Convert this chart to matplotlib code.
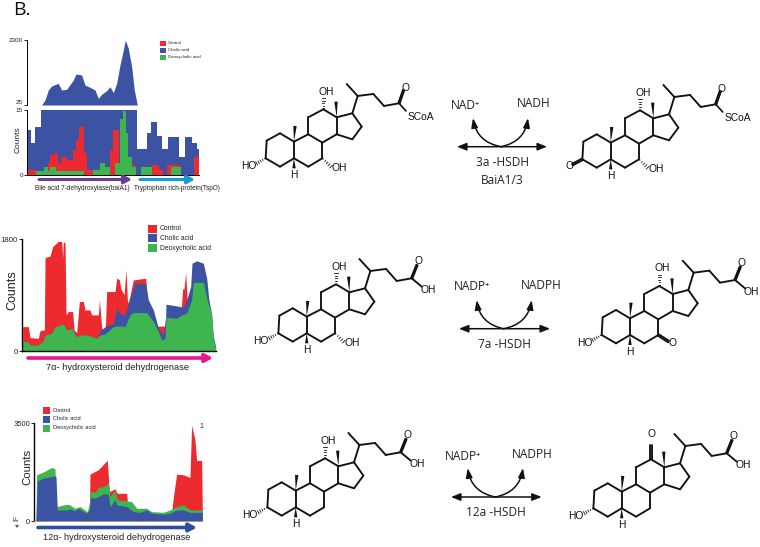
import matplotlib
matplotlib.use("Agg")
from matplotlib import pyplot as plt
from matplotlib.patches import FancyArrowPatch, Polygon, Rectangle
import numpy as np

W, H = 760, 547
RED = "#ed2a2e"
BLUE = "#3c53a4"
GREEN = "#3fb54f"
SANS = "Liberation Sans"
CAL = ["Open Sans", "DejaVu Sans"]
NAMES = ["Control", "Cholic acid", "Deoxycholic acid"]

# ---- panel 1 (baiA1 / TspO), upper part of broken axis
top_x = [125, 135, 145, 155, 175, 185, 200, 220, 228, 245, 255, 270, 285, 295, 305, 320, 330, 340, 350, 360, 370, 376, 385, 395, 403, 412]
top_blue = [25, 200, 550, 690, 783, 550, 573, 900, 1110, 1075, 725, 643, 550, 258, 398, 527, 667, 457, 783, 1425, 1950, 2300, 2009, 1367, 550, 25]

# lower part, step profiles (edges, values)
low_blue_x = [82, 92, 105, 122, 412, 440, 452, 472, 485, 505, 538, 555, 577, 590, 597]
low_blue = [10.4, 7.5, 11, 15, 6, 9.6, 12.3, 9, 6, 8.7, 4.2, 8.7, 7.3, 6, 6]
low_red_x = [82, 108, 143, 150, 165, 175, 182, 200, 218, 228, 238, 252, 262, 278, 330, 340, 358, 395, 405, 455, 478, 488, 500, 540, 582, 597]
low_red = [1.2, 0, 2.7, 4.6, 5, 2.7, 4.2, 3.5, 5.8, 8.1, 11, 5, 1.2, 0, 5.8, 10.4, 0, 2.2, 0, 2.2, 1.2, 0, 2.2, 0, 4.2, 4.2]
low_green_x = [108, 133, 143, 150, 168, 252, 280, 300, 315, 330, 345, 360, 370, 378, 385, 395, 408, 422, 455, 512, 543, 597]
low_green = [1, 1.9, 1, 1.9, 1, 0, 1.2, 2.7, 1.9, 0, 2.7, 13, 14.8, 9.6, 4.2, 1.9, 0, 1.9, 0, 1.9, 0, 0]

# ---- panel 2 (7a-HSDH)
p2_red_x = [68, 85, 90, 115, 120, 133, 135, 150, 158, 175, 185, 188, 190, 195, 198, 205, 218, 222, 230, 238, 250, 255, 270, 275, 295, 298, 302, 305, 316, 320, 345, 350, 358, 362, 372, 378, 382, 385, 400, 437, 442, 450, 540, 548, 552, 557, 562, 570, 576]
p2_red = [392, 392, 215, 204, 328, 338, 1500, 1525, 1680, 1760, 1760, 1490, 1760, 1735, 580, 634, 634, 338, 295, 795, 795, 660, 660, 580, 580, 822, 580, 365, 365, 956, 956, 1170, 1145, 1010, 902, 1305, 822, 768, 1142, 1170, 850, 400, 400, 1000, 1000, 1262, 768, 768, 800]
p2_blue_x = [68, 85, 90, 115, 130, 135, 155, 165, 190, 200, 215, 228, 240, 262, 290, 300, 315, 340, 350, 360, 375, 385, 395, 405, 437, 445, 460, 475, 490, 497, 498, 530, 550, 560, 572, 576, 590, 610, 620, 626, 635, 640, 647]
p2_blue = [150, 150, 97, 97, 166, 258, 285, 392, 435, 338, 365, 230, 258, 258, 204, 312, 392, 446, 688, 607, 580, 768, 930, 1090, 1080, 822, 660, 365, 258, 553, 752, 725, 704, 822, 1037, 1411, 1450, 1411, 1170, 849, 580, 230, 70]
p2_green_x = [68, 85, 90, 115, 130, 135, 155, 165, 190, 200, 215, 228, 240, 262, 290, 300, 315, 340, 360, 375, 390, 400, 440, 460, 475, 485, 495, 498, 530, 545, 560, 575, 580, 610, 620, 635, 640, 647]
p2_green = [150, 150, 97, 97, 166, 258, 285, 392, 435, 338, 365, 230, 258, 258, 204, 258, 274, 392, 403, 392, 580, 618, 618, 473, 312, 177, 204, 542, 527, 580, 607, 822, 1103, 1103, 850, 580, 177, 43]

# ---- panel 3 (12a-HSDH)
p3_red_x = [268, 270, 295, 322, 328, 345, 352, 380, 385, 515, 520, 530, 550, 570, 575, 585, 590, 605, 607]
p3_red = [0, 1675, 1830, 2170, 1050, 1150, 990, 990, 300, 300, 840, 1675, 1650, 1555, 3415, 2900, 2160, 2160, 400]
p3_blue_x = [108, 112, 130, 165, 168, 172, 200, 210, 225, 235, 260, 268, 272, 285, 295, 310, 325, 330, 345, 350, 380, 400, 420, 440, 455, 490, 510, 530, 550, 570, 607]
p3_blue = [40, 1430, 1530, 1610, 1590, 395, 395, 430, 360, 455, 275, 395, 840, 815, 875, 970, 955, 510, 755, 575, 515, 335, 310, 395, 275, 240, 275, 395, 395, 310, 310]
p3_green_x = [108, 110, 130, 155, 165, 170, 200, 210, 225, 240, 262, 268, 272, 285, 295, 310, 325, 330, 345, 352, 380, 395, 410, 440, 455, 490, 510, 530, 550, 570, 590, 607]
p3_green = [40, 1650, 1750, 1910, 1865, 515, 600, 575, 455, 515, 335, 630, 1055, 1030, 1195, 1230, 1350, 870, 1110, 755, 720, 695, 455, 455, 335, 310, 395, 515, 575, 395, 395, 395]


def px_axes(fig, x0, y0, x1, y1):
    # rectangle in image pixels (y down)
    return fig.add_axes([x0 / W, 1 - y1 / H, (x1 - x0) / W, (y1 - y0) / H])


def style(ax, ticks, labels, xlim, ylim, fs, lc="black", bottom=True):
    ax.set_xlim(*xlim)
    ax.set_ylim(*ylim)
    ax.patch.set_alpha(0)
    ax.set_xticks([])
    ax.set_yticks(ticks)
    ax.set_yticklabels(labels, fontsize=fs, family=SANS, color="#222222")
    ax.tick_params(axis="y", length=2, width=0.6, pad=1)
    for s in ["top", "right"]:
        ax.spines[s].set_visible(False)
    ax.spines["bottom"].set_visible(bottom)
    ax.spines["left"].set_linewidth(0.7)
    ax.spines["bottom"].set_linewidth(0.7)
    ax.spines["bottom"].set_color(lc)


fig = plt.figure(figsize=(W / 100, H / 100), dpi=100)

# panel 1
ax = px_axes(fig, 27.3, 40, 199, 105)
ax.fill_between(top_x, top_blue, 25, color=BLUE, lw=0)
style(ax, [25, 2300], ["25", "2300"], (82, 597), (25, 2300), 4.6, bottom=False)
ax.get_yticklabels()[0].set_va("bottom")

ax = px_axes(fig, 27.3, 110, 199, 175)
ax.fill_between(low_blue_x, low_blue, 0, step="post", color=BLUE, lw=0)
ax.fill_between(low_red_x, low_red, 0, step="post", color=RED, lw=0)
ax.fill_between(low_green_x, low_green, 0, step="post", color=GREEN, lw=0)
style(ax, [0, 15], ["0", "15"], (82, 597), (0, 15), 4.6)

# panel 2
ax = px_axes(fig, 21.7, 239, 216, 351)
ax.fill_between(p2_red_x, p2_red, 0, color=RED, lw=0)
ax.fill_between(p2_blue_x, p2_blue, 0, color=BLUE, lw=0)
ax.fill_between(p2_green_x, p2_green, 0, color=GREEN, lw=0)
style(ax, [0, 1800], ["0", "1800"], (65, 648), (0, 1800), 5.6)
ax.spines["left"].set_linewidth(1)
ax.spines["bottom"].set_linewidth(1)

# panel 3
ax = px_axes(fig, 34.3, 423, 202.3, 521)
ax.fill_between(p3_red_x, p3_red, 0, color=RED, lw=0)
ax.fill_between(p3_green_x, p3_green, 0, color=GREEN, lw=0)
ax.fill_between(p3_blue_x, p3_blue, 0, color=BLUE, lw=0)
style(ax, [0, 3500], ["0", "3500"], (103, 607), (0, 3500), 5.5, lc="#999999")
ax.spines["left"].set_linewidth(1)

# overlay in image pixels for everything that is not a chart
ov = fig.add_axes([0, 0, 1, 1], zorder=5)
ov.set_xlim(0, W)
ov.set_ylim(H, 0)
ov.axis("off")


def txt(x, y, s, fs, fam=SANS, ha="center", c="#222222", **kw):
    ov.text(x, y, s, fontsize=fs, family=fam, ha=ha, va="center", color=c, **kw)


def legend(x0, size, ys, tx, fs, cols):
    for y, c, n in zip(ys, cols, NAMES):
        ov.add_patch(Rectangle((x0, y - size[1] / 2), size[0], size[1], color=c, lw=0))
        txt(tx, y, n, fs, ha="left")


def gene(x0, x1, y, c, lw=2.2):
    ov.add_patch(FancyArrowPatch((x0, y), (x1, y), arrowstyle="-|>,head_length=3,head_width=1.6",
                                 mutation_scale=1.5, lw=lw, color=c, shrinkA=0, shrinkB=0))


txt(13, 10, "B.", 14, fam=CAL, ha="left", c="#111111")

legend(160, (6, 5), [43, 50, 57], 168, 3.2, [RED, BLUE, GREEN])
txt(18, 140, "Counts", 6, rotation=90)
gene(39, 132, 179.5, "#6a3d9a")
gene(140, 195, 179.5, "#1c9ad6")
txt(82, 189, "Bile acid 7-dehydroxylase(baiA1)", 4.7)
txt(177, 188, "Tryptophan rich-protein(TspO)", 4.7)

legend(148, (9, 8), [229, 238, 248], 160, 4.9, [RED, BLUE, GREEN])
txt(12, 290, "Counts", 9, rotation=90)
gene(28, 213, 358, "#e6178f", lw=2.6)
txt(117, 367, "7\u03b1- hydroxysteroid dehydrogenase", 6.7)

legend(43, (7, 7), [410, 419, 428], 53, 4.1, [RED, BLUE, GREEN])
txt(27, 467, "Counts", 8.2, rotation=90)
gene(38, 197, 527.5, "#2f4f9e", lw=2.6)
txt(117, 538, "12\u03b1- hydroxysteroid dehydrogenase", 6.6)
txt(201, 426, "1", 5)
# clipped remains of another panel at the lower left edge
txt(17, 518, "IF", 5, rotation=90, c="#555555")
ov.add_patch(Polygon([[15, 525], [19, 525], [17, 528]], color="#6a3d9a", lw=0))

# ---- steroid skeleton, local units are 3 per image pixel, origin at C5
SK = dict(C3=(-85, 0), C4=(-42, 25), C5=(0, 0), C10=(0, -50), C1=(-42, -75), C2=(-82, -53),
          C6=(43, 25), C7=(85, 0), C8=(85, -47), C9=(43, -72), C11=(43, -123), C12=(88, -147),
          C13=(128, -123), C14=(128, -72), C17=(175, -135), C16=(203, -95), C15=(175, -57),
          C20=(191, -187), C21=(158, -223), C22=(238, -193), C23=(270, -157), C24=(315, -165))
BONDS = ["C3 C4", "C4 C5", "C5 C10", "C10 C1", "C1 C2", "C2 C3", "C5 C6", "C6 C7", "C7 C8", "C8 C9",
         "C9 C10", "C9 C11", "C11 C12", "C12 C13", "C13 C14", "C14 C8", "C13 C17", "C17 C16",
         "C16 C15", "C15 C14", "C17 C20", "C20 C21", "C20 C22", "C22 C23", "C23 C24"]


def molecule(cx, cy, oh3=True, ket3=False, oh7=True, ket7=False, oh12=True, ket12=False, coa=False):
    def P(a, b):
        return cx + a / 3, cy + b / 3

    def line(p, q, lw=1.35):
        ov.plot(*zip(P(*p), P(*q)), color="#111111", lw=lw, solid_capstyle="round")

    def wedge(p, q, w=5):
        a, b = P(*p), P(*q)
        d = np.array(b) - np.array(a)
        n = np.array([-d[1], d[0]]) / np.hypot(*d) * w / 3
        ov.add_patch(Polygon([a, b + n, b - n], color="#111111", lw=0))

    def hashed(p, q, n=5):
        a, b = np.array(P(*p)), np.array(P(*q))
        d = b - a
        nrm = np.array([-d[1], d[0]]) / np.hypot(*d)
        for t in np.linspace(0.1, 1, n):
            m = a + d * t
            h = 1.8 * t
            ov.plot([m[0] - nrm[0] * h, m[0] + nrm[0] * h], [m[1] - nrm[1] * h, m[1] + nrm[1] * h],
                    color="#111111", lw=0.6)

    def double(p, q, g=5):
        a, b = np.array(p, float), np.array(q, float)
        d = b - a
        n = np.array([-d[1], d[0]]) / np.hypot(*d) * g / 2
        line(a + n, b + n)
        line(a - n, b - n)

    def atom(a, b, s):
        x, y = P(a, b)
        txt(x, y, s, 7.4, c="#111111")

    for b in BONDS:
        i, j = b.split()
        line(SK[i], SK[j])
    wedge(SK["C13"], (126, -170))
    wedge(SK["C10"], (3, -97))
    wedge(SK["C5"], (0, 30))
    atom(0, 50, "H")
    if oh3:
        hashed(SK["C3"], (-112, 15))
        atom(-137, 23, "HO")
    if ket3:
        double(SK["C3"], (-115, 16))
        atom(-125, 21, "O")
    if oh7:
        hashed(SK["C7"], (111, 25))
        atom(135, 29, "OH")
    if ket7:
        double(SK["C7"], (116, 20))
        atom(128, 25, "O")
    if oh12:
        hashed(SK["C12"], (88, -180))
        atom(98, -200, "OH")
    if ket12:
        double(SK["C12"], (88, -190))
        atom(88, -222, "O")
    if coa:
        double(SK["C24"], (329, -205), g=4)
        atom(333, -211, "O")
        line(SK["C24"], (336, -142), lw=1.2)
        atom(381, -125, "SCoA")
    else:
        double(SK["C24"], (331, -205), g=4)
        atom(335, -216, "O")
        line(SK["C24"], (345, -140))
        atom(364, -130, "OH")


molecule(294, 158.3, coa=True)
molecule(610.7, 159.3, oh3=False, ket3=True, coa=True)
molecule(306.7, 333.3)
molecule(630, 335, oh7=False, ket7=True)
molecule(295.7, 507.3, oh7=False)
molecule(621.7, 508.3, oh7=False, oh12=False, ket12=True)


def reaction(x0, x1, y, hl, hr, y_head, left, right, lp, rp, names, lab_y):
    for a, b in [(x0 + (x1 - x0) / 2, x0), (x0 + (x1 - x0) / 2, x1)]:
        ov.add_patch(FancyArrowPatch((a, y), (b, y), arrowstyle="-|>,head_length=3.5,head_width=1.4",
                                     mutation_scale=1.6, lw=1.1, color="#111111", shrinkA=0, shrinkB=0))
    mid = (x0 + x1) / 2
    ov.add_patch(FancyArrowPatch((mid - 1, y), (hl, y_head), connectionstyle="arc3,rad=-0.35",
                                 arrowstyle="-|>,head_length=3.5,head_width=1.2", mutation_scale=1.6,
                                 lw=1.1, color="#111111", shrinkA=0, shrinkB=0))
    ov.add_patch(FancyArrowPatch((mid - 1, y), (hr, y_head), connectionstyle="arc3,rad=0.35",
                                 arrowstyle="-|>,head_length=3.5,head_width=1.2", mutation_scale=1.6,
                                 lw=1.1, color="#111111", shrinkA=0, shrinkB=0))
    txt(lp[0], lp[1], left, 8.6, fam=CAL)
    txt(rp[0], rp[1], right, 8.6, fam=CAL)
    for s, ly in zip(names, lab_y):
        txt(mid, ly, s, 8.6, fam=CAL)


reaction(457, 547, 146.7, 473, 528, 118, "NAD\u207a", "NADH", (465, 105.5), (534, 103.5),
         ["3a -HSDH", "BaiA1/3"], [162, 181])
reaction(459, 550, 328.7, 476.7, 531.7, 300, "NADP\u207a", "NADPH", (471.7, 287), (541, 285.7),
         ["7a -HSDH"], [344])
reaction(451, 541.7, 497, 467.7, 523, 468, "NADP\u207a", "NADPH", (462.7, 456), (532, 454),
         ["12a -HSDH"], [513])

fig.savefig("out.png", dpi=100)
